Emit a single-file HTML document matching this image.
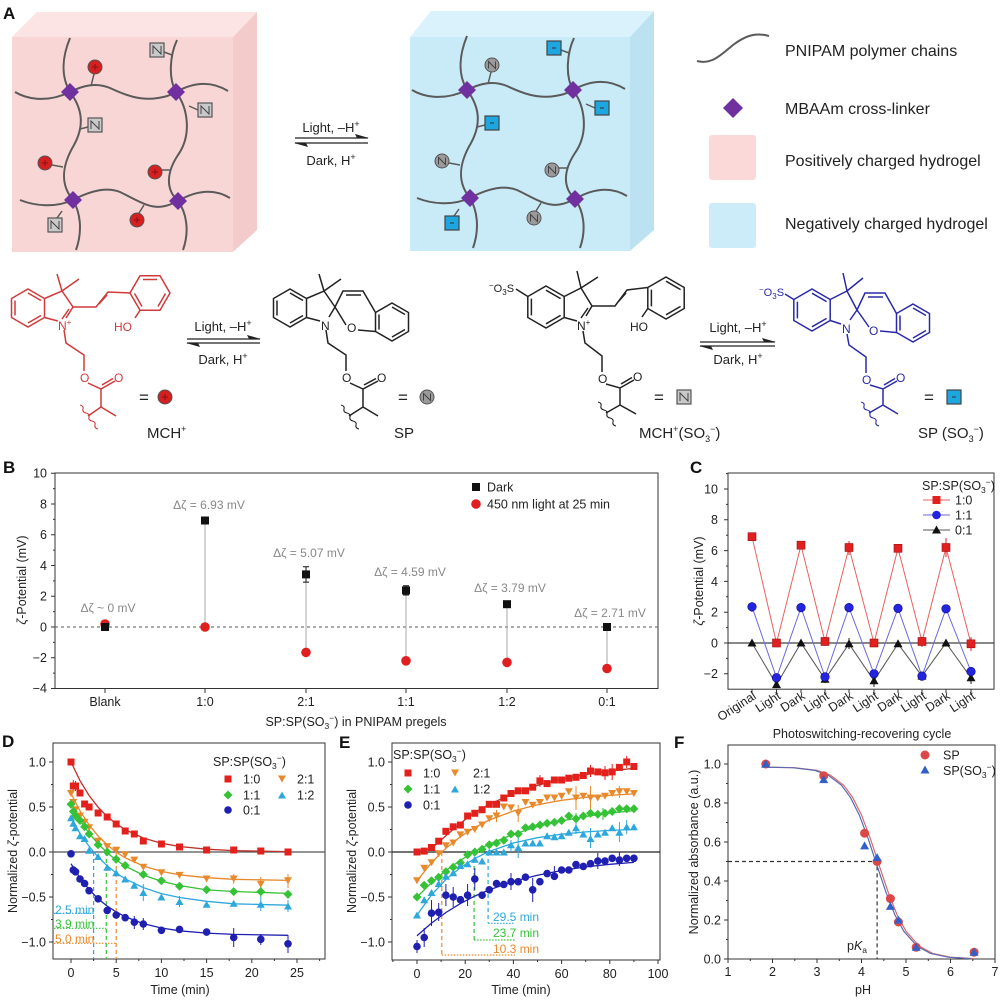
<!DOCTYPE html>
<html><head><meta charset="utf-8"><style>
html,body{margin:0;padding:0;background:#fff}
svg{display:block}
text{font-family:"Liberation Sans",Arial,sans-serif;fill:#222}
</style></head><body>
<svg width="1000" height="1000" viewBox="0 0 1000 1000" xmlns="http://www.w3.org/2000/svg">
<defs>
<g id="net" fill="none" stroke="#5a5a5a" stroke-width="2">
<path d="M15,92 C25,98 45,104 70,92 C82,86 95,82 110,88 C125,95 140,101 158,98 C166,97 171,95 176,92 C192,83 210,80 228,91"/>
<path d="M70,38 C63,55 60,75 70,92 C82,108 85,125 74,145 C64,162 58,182 73,200 C80,212 83,230 76,250"/>
<path d="M177,40 C170,55 168,78 176,92 C188,108 192,135 178,155 C168,170 164,188 178,201 C186,212 190,230 183,250"/>
<path d="M20,200 C35,206 55,208 73,200 C88,192 105,186 120,192 C135,199 150,210 165,206 C170,205 174,203 178,201 C190,194 210,186 230,198"/>
<path stroke-width="1.5" d="M94,74 L91,86 M52,165 L63,167 M162,170 L170,170 M139,213 L144,205 M164,52 L172,55 M198,110 L189,106 M88,127 L80,129 M57,218 L62,211"/>
<g fill="#7030a0" stroke="none">
<polygon points="70,83 79,92 70,101 61,92"/>
<polygon points="176,83 185,92 176,101 167,92"/>
<polygon points="73,191 82,200 73,209 64,200"/>
<polygon points="178,192 187,201 178,210 169,201"/>
</g>
</g>
<g id="rc"><circle r="7" fill="#d42020" stroke="#555" stroke-width="1"/><path d="M-3,0H3M0,-3V3" stroke="#8a1010" stroke-width="1"/></g>
<g id="ns"><rect x="-7" y="-7" width="14" height="14" fill="#c9c9c9" stroke="#555" stroke-width="1.2"/><path d="M-4,4V-4L4,4V-4" fill="none" stroke="#444" stroke-width="1"/></g>
<g id="nc"><circle r="7" fill="#9a9a9a" stroke="#555" stroke-width="1"/><path d="M-3.5,3.5V-3.5L3.5,3.5V-3.5" fill="none" stroke="#444" stroke-width="1"/></g>
<g id="ms"><rect x="-7" y="-7" width="14" height="14" fill="#1ea6e0" stroke="#444" stroke-width="1.2"/><path d="M-2,0H2" stroke="#333" stroke-width="1"/></g>

<marker id="mR" markerWidth="10" markerHeight="10" refX="5" refY="5" markerUnits="userSpaceOnUse" overflow="visible"><rect x="1.5" y="1.5" width="7" height="7" fill="#e3211c"/></marker>
<marker id="mO" markerWidth="10" markerHeight="10" refX="5" refY="5" markerUnits="userSpaceOnUse" overflow="visible"><polygon points="1,1.5 9,1.5 5,8.5" fill="#e8892b"/></marker>
<marker id="mG" markerWidth="10" markerHeight="10" refX="5" refY="5" markerUnits="userSpaceOnUse" overflow="visible"><polygon points="5,0.5 9.5,5 5,9.5 0.5,5" fill="#36c236"/></marker>
<marker id="mC" markerWidth="10" markerHeight="10" refX="5" refY="5" markerUnits="userSpaceOnUse" overflow="visible"><polygon points="5,1.5 9,8.5 1,8.5" fill="#2ea8dc"/></marker>
<marker id="mB" markerWidth="10" markerHeight="10" refX="5" refY="5" markerUnits="userSpaceOnUse" overflow="visible"><circle cx="5" cy="5" r="3.8" fill="#1f1fb0"/></marker>

<marker id="bK" markerWidth="10" markerHeight="10" refX="5" refY="5" markerUnits="userSpaceOnUse" overflow="visible"><rect x="1" y="1" width="8" height="8" fill="#111"/></marker>
<marker id="bR" markerWidth="10" markerHeight="10" refX="5" refY="5" markerUnits="userSpaceOnUse" overflow="visible"><circle cx="5" cy="5" r="4.8" fill="#e02020"/></marker>

<marker id="cR" markerWidth="10" markerHeight="10" refX="5" refY="5" markerUnits="userSpaceOnUse" overflow="visible"><rect x="1" y="1" width="8" height="8" fill="#e32020" stroke="#a01010" stroke-width="0.6"/></marker>
<marker id="cB" markerWidth="10" markerHeight="10" refX="5" refY="5" markerUnits="userSpaceOnUse" overflow="visible"><circle cx="5" cy="5" r="4.3" fill="#2323e0" stroke="#10108a" stroke-width="0.6"/></marker>
<marker id="cK" markerWidth="10" markerHeight="10" refX="5" refY="5" markerUnits="userSpaceOnUse" overflow="visible"><polygon points="5,0.5 9.5,8.5 0.5,8.5" fill="#111"/></marker>

<marker id="fR" markerWidth="10" markerHeight="10" refX="5" refY="5" markerUnits="userSpaceOnUse" overflow="visible"><circle cx="5" cy="5" r="4.5" fill="#dc4848"/></marker>
<marker id="fB" markerWidth="10" markerHeight="10" refX="5" refY="5" markerUnits="userSpaceOnUse" overflow="visible"><polygon points="5,0.5 9.5,8.5 0.5,8.5" fill="#3060c8"/></marker>
</defs>

<!-- ================= PANEL A ================= -->
<text x="3" y="19" font-size="17" font-weight="bold" style="fill:#111">A</text>
<polygon points="12,37 37,12 257,12 233,37" fill="#fce4e4"/>
<polygon points="233,37 257,12 257,230 233,252" fill="#f3cbcb"/>
<rect x="12" y="37" width="221" height="215" fill="#f9d6d6"/>
<use href="#net"/>
<use href="#rc" x="95" y="67"/><use href="#rc" x="45" y="163"/><use href="#rc" x="155" y="172"/><use href="#rc" x="137" y="220"/>
<use href="#ns" x="157" y="50"/><use href="#ns" x="205" y="110"/><use href="#ns" x="95" y="125"/><use href="#ns" x="55" y="225"/>

<text x="331" y="132" font-size="13" text-anchor="middle">Light, –H<tspan font-size="9" dy="-5">+</tspan></text>
<path d="M295,138H368M295,143H368" stroke="#222" stroke-width="1.3"/>
<polygon points="369,138 355,134 357,138" fill="#222"/>
<polygon points="294,143 308,147 306,143" fill="#222"/>
<text x="331" y="165" font-size="13" text-anchor="middle">Dark, H<tspan font-size="9" dy="-5">+</tspan></text>

<polygon points="410,37 431,11 654,11 630,37" fill="#d9f2fb"/>
<polygon points="630,37 654,11 654,230 630,251" fill="#bce2f1"/>
<rect x="410" y="37" width="220" height="214" fill="#c9ebf8"/>
<use href="#net" transform="translate(397,-2)"/>
<use href="#nc" x="492" y="65"/><use href="#nc" x="442" y="161"/><use href="#nc" x="552" y="170"/><use href="#nc" x="534" y="218"/>
<use href="#ms" x="554" y="48"/><use href="#ms" x="602" y="108"/><use href="#ms" x="492" y="123"/><use href="#ms" x="452" y="223"/>

<path d="M697,61 C712,65 722,54 733,45 C745,36 755,32 769,36" fill="none" stroke="#5a5a5a" stroke-width="2"/>
<text x="785" y="56" font-size="16">PNIPAM polymer chains</text>
<polygon points="733,98 743,108 733,118 723,108" fill="#7030a0"/>
<text x="785" y="114" font-size="16">MBAAm cross-linker</text>
<rect x="709" y="135" width="47" height="45" rx="3" fill="#fbd9d9"/>
<text x="785" y="166" font-size="16">Positively charged hydrogel</text>
<rect x="709" y="203" width="47" height="45" rx="3" fill="#cbecf8"/>
<text x="785" y="229" font-size="16">Negatively charged hydrogel</text>

<!-- ================= CHEMISTRY ROW ================= -->
<g fill="none" stroke="#d03a3a" stroke-width="1.5">
<path d="M28,289 L44.5,298.5 L44.5,317.5 L28,327 L11.5,317.5 L11.5,298.5 Z"/>
<path d="M28,293 L41,300.5 M41,315.5 L28,323 M15,315.5 L15,300.5"/>
<path d="M44.5,298.5 L62,291 L73,307 L66,318 M44.5,317.5 L58,321"/>
<path d="M69,309 L62,319"/>
<path d="M62,291 L57,274 M62,291 L79,279"/>
<path d="M73,307 L96,307 L108,292 L130,293 M99,304 L107,295"/>
<path d="M170,293 L160,275.7 L140,275.7 L130,293 L140,310.3 L160,310.3 Z"/>
<path d="M143,279.5 L157,279.5 M134.5,293.5 L142,306.5 M158,306.5 L165.5,293.5"/>
<path d="M140,310.3 L135,318"/>
<path d="M64,330 L66,343 L84,355 L84,371 M88,383 L101,389 L115,381 M102,385 L113,378.5 M101,389 L101,407 L88,416 M101,407 L116,416"/>
<path d="M80,405 q4,1 3,4 q-1,3 3,4 q4,1 3,4 q-1,3 3,4 q4,1 3,4 q-1,3 3,4" stroke-width="1.1"/>
</g>
<g font-size="12" style="fill:#d03a3a">
<text x="58" y="330" style="fill:#d03a3a">N<tspan font-size="8" dy="-5">+</tspan></text>
<text x="114" y="331" style="fill:#d03a3a">HO</text>
<text x="80" y="382" style="fill:#d03a3a">O</text>
<text x="114" y="382" style="fill:#d03a3a">O</text>
</g>
<text x="139" y="403" font-size="17">=</text>
<use href="#rc" x="165" y="397"/>
<text x="147" y="438" font-size="15">MCH<tspan font-size="9" dy="-6">+</tspan></text>

<text x="223" y="331" font-size="13" text-anchor="middle">Light, –H<tspan font-size="9" dy="-5">+</tspan></text>
<path d="M187,339H260M187,343H260" stroke="#222" stroke-width="1.3"/>
<polygon points="261,339 247,335 249,339" fill="#222"/>
<polygon points="186,343 200,347 198,343" fill="#222"/>
<text x="223" y="364" font-size="13" text-anchor="middle">Dark, H<tspan font-size="9" dy="-5">+</tspan></text>

<g fill="none" stroke="#222" stroke-width="1.5">
<path d="M290,289 L306.5,298.5 L306.5,317.5 L290,327 L273.5,317.5 L273.5,298.5 Z"/>
<path d="M290,293 L303,300.5 M303,315.5 L290,323 M277,315.5 L277,300.5"/>
<path d="M306.5,298.5 L324,291 L335,307 L329,317 M306.5,317.5 L320,321"/>
<path d="M324,291 L319,274 M324,291 L341,279"/>
<path d="M335,307 L343,291 L363,291 L375.5,312.5 M346,295 L361,295"/>
<path d="M392,303 L408.5,312.5 L408.5,331.5 L392,341 L375.5,331.5 L375.5,312.5 Z"/>
<path d="M392,307 L405,314.5 M405,329.5 L392,337 M379,329.5 L379,314.5"/>
<path d="M375.5,331.5 L358,330 M346,325 L335,307"/>
<path d="M326,330 L328,343 L346,355 L346,371 M350,383 L363,389 L378,381 M364,385 L376,378.5 M363,389 L363,407 L349,416 M363,407 L378,416"/>
<path d="M341,405 q4,1 3,4 q-1,3 3,4 q4,1 3,4 q-1,3 3,4 q4,1 3,4 q-1,3 3,4" stroke-width="1.1"/>
</g>
<g font-size="12">
<text x="321" y="330">N</text>
<text x="347" y="332">O</text>
<text x="342" y="382">O</text>
<text x="377" y="382">O</text>
</g>
<text x="398" y="403" font-size="17">=</text>
<use href="#nc" x="427" y="397"/>
<text x="394" y="438" font-size="15">SP</text>

<g fill="none" stroke="#222" stroke-width="1.5">
<path d="M546,286 L564.2,296.5 L564.2,317.5 L546,328 L527.8,317.5 L527.8,296.5 Z"/>
<path d="M546,290.2 L560.6,298.6 M560.6,315.4 L546,323.8 M531.4,315.4 L531.4,298.6"/>
<path d="M527.8,296.5 L516,289"/>
<path d="M564.2,296.5 L581,288 L592,306 L586,316 M564.2,317.5 L577,321"/>
<path d="M588,308 L581,318"/>
<path d="M581,288 L577,271 M581,288 L598,277"/>
<path d="M592,306 L615,306 L627,290 L647.8,287.5 M618,302 L626,293"/>
<path d="M666,277 L684.2,287.5 L684.2,308.5 L666,319 L647.8,308.5 L647.8,287.5 Z"/>
<path d="M666,281.2 L680.6,289.6 M680.6,306.4 L666,314.8 M651.4,306.4 L651.4,289.6"/>
<path d="M647.8,308.5 L642,317"/>
<path d="M583,331 L585,343 L602,356 L602,372 M606,384 L620,388 L634,380 M621,384 L632,377.5 M620,388 L620,405 L606,413 M620,405 L636,414"/>
<path d="M598,402 q4,1 3,4 q-1,3 3,4 q4,1 3,4 q-1,3 3,4 q4,1 3,4 q-1,3 3,4" stroke-width="1.1"/>
</g>
<g font-size="12">
<text x="577" y="330">N<tspan font-size="8" dy="-5">+</tspan></text>
<text x="630" y="331">HO</text>
<text x="598" y="383">O</text>
<text x="633" y="381">O</text>
<text x="489" y="292" font-size="11"><tspan font-size="8" dy="-4">−</tspan><tspan dy="4">O</tspan><tspan font-size="8" dy="3">3</tspan><tspan dy="-3">S</tspan></text>
</g>
<text x="654" y="403" font-size="17">=</text>
<use href="#ns" x="684" y="397"/>
<text x="639" y="438" font-size="15">MCH<tspan font-size="9" dy="-6">+</tspan><tspan dy="6">(SO</tspan><tspan font-size="9" dy="4">3</tspan><tspan font-size="9" dy="-10">−</tspan><tspan dy="6">)</tspan></text>

<text x="738" y="332" font-size="13" text-anchor="middle">Light, –H<tspan font-size="9" dy="-5">+</tspan></text>
<path d="M700,342H775M700,346H775" stroke="#222" stroke-width="1.3"/>
<polygon points="776,342 762,338 764,342" fill="#222"/>
<polygon points="699,346 713,350 711,346" fill="#222"/>
<text x="738" y="364" font-size="13" text-anchor="middle">Dark, H<tspan font-size="9" dy="-5">+</tspan></text>

<g fill="none" stroke="#2a2aa8" stroke-width="1.5">
<path d="M812,289 L830.2,299.5 L830.2,320.5 L812,331 L793.8,320.5 L793.8,299.5 Z"/>
<path d="M812,293.2 L826.6,301.6 M826.6,318.4 L812,326.8 M797.4,318.4 L797.4,301.6"/>
<path d="M793.8,299.5 L785,294"/>
<path d="M830.2,299.5 L847,291 L857,310 L850,320 M830.2,320.5 L841,324"/>
<path d="M847,291 L843,273 M847,291 L863,278"/>
<path d="M857,310 L865,293 L885,293 L896.5,313.5 M868,297 L883,297"/>
<path d="M913,304 L929.5,313.5 L929.5,332.5 L913,342 L896.5,332.5 L896.5,313.5 Z"/>
<path d="M913,308 L926,315.5 M926,330.5 L913,338 M900,330.5 L900,315.5"/>
<path d="M896.5,332.5 L880,331 M869,327 L857,310"/>
<path d="M847,334 L849,345 L866,357 L866,373 M870,385 L883,389 L897,381 M884,385 L895,378.5 M883,389 L883,405 L869,413 M883,405 L898,414"/>
<path d="M861,402 q4,1 3,4 q-1,3 3,4 q4,1 3,4 q-1,3 3,4 q4,1 3,4 q-1,3 3,4" stroke-width="1.1"/>
</g>
<g font-size="12">
<text x="842" y="333" style="fill:#2a2aa8">N</text>
<text x="869" y="335" style="fill:#2a2aa8">O</text>
<text x="862" y="384" style="fill:#2a2aa8">O</text>
<text x="896" y="382" style="fill:#2a2aa8">O</text>
<text x="759" y="296" font-size="11" style="fill:#2a2aa8"><tspan font-size="8" dy="-4">−</tspan><tspan dy="4">O</tspan><tspan font-size="8" dy="3">3</tspan><tspan dy="-3">S</tspan></text>
</g>
<text x="924" y="403" font-size="17">=</text>
<use href="#ms" x="954" y="397"/>
<text x="918" y="438" font-size="15">SP (SO<tspan font-size="9" dy="4">3</tspan><tspan font-size="9" dy="-10">−</tspan><tspan dy="6">)</tspan></text>

<!-- ================= PANEL B ================= -->
<text x="3" y="473" font-size="17" font-weight="bold" style="fill:#111">B</text>
<rect x="55" y="473" width="603" height="215.5" fill="none" stroke="#333" stroke-width="1"/>
<path d="M51,473.3H55M51,504H55M51,534.8H55M51,565.5H55M51,596.3H55M51,627H55M51,657.8H55M51,688.5H55" stroke="#333"/>
<path d="M53,488.6H55M53,519.4H55M53,550.1H55M53,580.9H55M53,611.6H55M53,642.4H55M53,673.1H55" stroke="#333"/>
<path d="M105,688.5V693M205,688.5V693M306,688.5V693M406,688.5V693M507,688.5V693M607,688.5V693" stroke="#333"/>
<g font-size="12.5" text-anchor="end">
<text x="47" y="477.5">10</text><text x="47" y="508.5">8</text><text x="47" y="539">6</text><text x="47" y="570">4</text><text x="47" y="600.5">2</text><text x="47" y="631.5">0</text><text x="47" y="662">−2</text><text x="47" y="692.5">−4</text>
</g>
<g font-size="12.5" text-anchor="middle">
<text x="105" y="706">Blank</text><text x="205" y="706">1:0</text><text x="306" y="706">2:1</text><text x="406" y="706">1:1</text><text x="507" y="706">1:2</text><text x="607" y="706">0:1</text>
<text x="356" y="726">SP:SP(SO<tspan font-size="8.5" dy="3">3</tspan><tspan font-size="8.5" dy="-8">−</tspan><tspan dy="5">) in PNIPAM pregels</tspan></text>
</g>
<text transform="translate(26,580) rotate(-90)" font-size="12.5" text-anchor="middle"><tspan font-style="italic">ζ</tspan>-Potential (mV)</text>
<path d="M55,627H658" stroke="#777" stroke-width="1.2" stroke-dasharray="3,3"/>
<path d="M205,520.5V627M306,574.4V652.4M406,590.4V660.8M507,604.2V662.4M607,627V668.5" stroke="#aaa" stroke-width="1"/>
<path d="M306,566.7V582.1M303,566.7H309M303,582.1H309M406,585.8V595M403,585.8H409M403,595H409" stroke="#111" stroke-width="1"/>
<path d="M306,648V657M607,664V673" stroke="#e02020" stroke-width="1"/>
<polyline points="105,624 205,627 306,652.4 406,660.8 507,662.4 607,668.5" fill="none" stroke="none" marker-start="url(#bR)" marker-mid="url(#bR)" marker-end="url(#bR)"/>
<polyline points="105,627 205,520.5 306,574.4 406,590.4 507,604.2 607,627" fill="none" stroke="none" marker-start="url(#bK)" marker-mid="url(#bK)" marker-end="url(#bK)"/>
<g font-size="12" text-anchor="middle" style="fill:#888">
<text x="108" y="612" style="fill:#888">Δζ ~ 0 mV</text>
<text x="209" y="509" style="fill:#888">Δζ = 6.93 mV</text>
<text x="309" y="557" style="fill:#888">Δζ = 5.07 mV</text>
<text x="410" y="576" style="fill:#888">Δζ = 4.59 mV</text>
<text x="510" y="592" style="fill:#888">Δζ = 3.79 mV</text>
<text x="610" y="617" style="fill:#888">Δζ = 2.71 mV</text>
</g>
<rect x="472" y="483" width="8" height="8" fill="#111"/>
<text x="487" y="491.5" font-size="12.5">Dark</text>
<circle cx="476" cy="504" r="4.8" fill="#e02020"/>
<text x="487" y="508.5" font-size="12.5">450 nm light at 25 min</text>

<!-- ================= PANEL C ================= -->
<text x="690" y="473" font-size="17" font-weight="bold" style="fill:#111">C</text>
<rect x="728" y="473" width="266" height="216.2" fill="none" stroke="#333" stroke-width="1"/>
<path d="M724,489H728M724,519.8H728M724,550.6H728M724,581.4H728M724,612.2H728M724,643H728M724,673.8H728" stroke="#333"/>
<path d="M726,473.6H728M726,504.4H728M726,535.2H728M726,566H728M726,596.8H728M726,627.6H728M726,658.4H728" stroke="#333"/>
<path d="M752,689V693M776.5,689V693M801,689V693M825,689V693M849,689V693M874,689V693M898,689V693M922,689V693M946,689V693M971,689V693" stroke="#333"/>
<g font-size="12.5" text-anchor="end">
<text x="718" y="493.5">10</text><text x="718" y="524">8</text><text x="718" y="555">6</text><text x="718" y="586">4</text><text x="718" y="616.5">2</text><text x="718" y="647.5">0</text><text x="718" y="678">−2</text>
</g>
<text transform="translate(703,581) rotate(-90)" font-size="12.5" text-anchor="middle"><tspan font-style="italic">ζ</tspan>-Potential (mV)</text>
<g font-size="12.5" text-anchor="end">
<text transform="translate(757,698) rotate(-33)">Original</text>
<text transform="translate(781.5,698) rotate(-33)">Light</text>
<text transform="translate(806,698) rotate(-33)">Dark</text>
<text transform="translate(830,698) rotate(-33)">Light</text>
<text transform="translate(854,698) rotate(-33)">Dark</text>
<text transform="translate(879,698) rotate(-33)">Light</text>
<text transform="translate(903,698) rotate(-33)">Dark</text>
<text transform="translate(927,698) rotate(-33)">Light</text>
<text transform="translate(951,698) rotate(-33)">Dark</text>
<text transform="translate(976,698) rotate(-33)">Light</text>
</g>
<text x="862" y="738" font-size="12.5" text-anchor="middle">Photoswitching-recovering cycle</text>
<path d="M728,643H994" stroke="#111" stroke-width="1"/>
<path d="M849,541V555M946,538V557M922,637V647M971,637V651M825,637V646" stroke="#e32020" stroke-width="1"/>
<path d="M752,602V612" stroke="#2323e0" stroke-width="1"/>
<path d="M874,675V687M825,676V683M849,638V649M971,672V684" stroke="#222" stroke-width="1"/>
<polyline points="752,536.7 776.5,643 801,545.2 825,641.5 849,547.5 874,643 898,548.3 922,641.5 946,547.5 971,643.8" fill="none" stroke="#e86060" stroke-width="1" marker-start="url(#cR)" marker-mid="url(#cR)" marker-end="url(#cR)"/>
<polyline points="752,643 776.5,684.6 801,643 825,679.2 849,643.8 874,680.7 898,643.8 922,676.1 946,643 971,677.7" fill="none" stroke="#555" stroke-width="1" marker-start="url(#cK)" marker-mid="url(#cK)" marker-end="url(#cK)"/>
<polyline points="752,606.8 776.5,677.7 801,607.6 825,676.9 849,607.6 874,673.8 898,608.4 922,676.1 946,608.8 971,671.5" fill="none" stroke="#6a6ad8" stroke-width="1" marker-start="url(#cB)" marker-mid="url(#cB)" marker-end="url(#cB)"/>
<text x="922" y="490" font-size="12.5">SP:SP(SO<tspan font-size="8.5" dy="3">3</tspan><tspan font-size="8.5" dy="-8">−</tspan><tspan dy="5">)</tspan></text>
<path d="M923,500H950" stroke="#e86060"/><rect x="932.5" y="496" width="8" height="8" fill="#e32020"/>
<text x="955" y="504.5" font-size="12.5">1:0</text>
<path d="M923,515H950" stroke="#6a6ad8"/><circle cx="936.5" cy="515" r="4.3" fill="#2323e0"/>
<text x="955" y="519.5" font-size="12.5">1:1</text>
<path d="M923,530H950" stroke="#555"/><polygon points="936.5,525.5 941,533.5 932,533.5" fill="#111"/>
<text x="955" y="534.5" font-size="12.5">0:1</text>

<!-- ================= PANEL D ================= -->
<text x="2" y="747" font-size="17" font-weight="bold" style="fill:#111">D</text>
<rect x="53" y="743" width="272" height="216" fill="none" stroke="#333" stroke-width="1"/>
<path d="M49,762H53M49,807H53M49,852H53M49,897H53M49,942H53" stroke="#333"/>
<path d="M51,784.5H53M51,829.5H53M51,874.5H53M51,919.5H53" stroke="#333"/>
<path d="M71,959V963M116.2,959V963M161.4,959V963M206.6,959V963M251.8,959V963M297,959V963" stroke="#333"/>
<path d="M93.6,959V961M138.8,959V961M184,959V961M229.2,959V961M274.4,959V961M319.6,959V961" stroke="#333"/>
<g font-size="12.5" text-anchor="end">
<text x="46" y="766.5">1.0</text><text x="46" y="811.5">0.5</text><text x="46" y="856.5">0.0</text><text x="46" y="901.5">−0.5</text><text x="46" y="946.5">−1.0</text>
</g>
<g font-size="12.5" text-anchor="middle">
<text x="71" y="977">0</text><text x="116.2" y="977">5</text><text x="161.4" y="977">10</text><text x="206.6" y="977">15</text><text x="251.8" y="977">20</text><text x="297" y="977">25</text>
<text x="180" y="994">Time (min)</text>
</g>
<text transform="translate(17,851) rotate(-90)" font-size="12.5" text-anchor="middle">Normalized <tspan font-style="italic">ζ</tspan>-potential</text>
<path d="M53,852H325" stroke="#555" stroke-width="1.2"/>
<path d="M93.6,852V959" stroke="#2ea8dc" stroke-width="1.2" stroke-dasharray="4,3"/>
<path d="M106.3,852V959" stroke="#36c236" stroke-width="1.2" stroke-dasharray="4,3"/>
<path d="M116.2,852V959" stroke="#e8892b" stroke-width="1.2" stroke-dasharray="4,3"/>
<path d="M54,913.3H93.6" stroke="#2ea8dc" stroke-width="1.2" stroke-dasharray="1.5,1.5"/>
<path d="M54,928.3H106.3" stroke="#36c236" stroke-width="1.2" stroke-dasharray="1.5,1.5"/>
<path d="M54,943.3H116.2" stroke="#e8892b" stroke-width="1.2" stroke-dasharray="1.5,1.5"/>
<text x="55" y="914" font-size="12" style="fill:#2ea8dc">2.5 min</text>
<text x="55" y="928" font-size="12" style="fill:#36c236">3.9 min</text>
<text x="55" y="943" font-size="12" style="fill:#e8892b">5.0 min</text>
<g fill="none" stroke-width="1.3">
<polyline stroke="#c0302a" points="71,762 80,780.7 89.1,795.5 98.1,807.2 107.2,816.5 116.2,823.8 125.2,829.7 143.3,838 161.4,843.2 179.5,846.5 206.6,849.2 233.7,850.6 288,851.6"/>
<polyline stroke="#e8892b" points="71,793.5 80,810.9 89.1,824.8 98.1,836 107.2,844.9 116.2,852.1 125.2,857.8 143.3,866 161.4,871.4 179.5,874.8 206.6,877.7 233.7,879.3 288,880.4"/>
<polyline stroke="#36c236" points="71,804.3 80,820.1 89.1,833.2 98.1,843.9 107.2,852.8 116.2,860.1 125.2,866.1 143.3,875.1 161.4,881.3 179.5,885.5 206.6,889.9 233.7,891.5 288,893.4"/>
<polyline stroke="#2ea8dc" points="71,817.8 80,833.5 89.1,846.4 98.1,857 107.2,865.8 116.2,873 125.2,878.8 143.3,887.6 161.4,893.6 179.5,897.5 206.6,901.3 233.7,903.8 288,905.2"/>
<polyline stroke="#1f1fb0" points="71,863.7 80,878 89.1,889.5 98.1,898.8 107.2,906.1 116.2,912 125.2,916.7 143.3,923.6 161.4,928 179.5,930.8 206.6,933.1 233.7,934.4 288,935.3"/>
</g>
<g stroke-width="1">
<path stroke="#e3211c" d="M73.3,780V792M75.5,781V791"/>
<path stroke="#e8892b" d="M260.8,877V892M288,874V888M233.7,874V884"/>
<path stroke="#36c236" d="M260.8,886V897M288,890V899"/>
<path stroke="#2ea8dc" d="M143.3,884V901M260.8,897V911M288,900V912M179.5,896V907"/>
<path stroke="#1f1fb0" d="M233.7,928V947M288,935V953M134.3,916V929M143.3,918V930M260.8,934V945"/>
</g>
<polyline points="71,762 73.3,786 75.5,786 80,793 84.6,804 89.1,807 98.1,813 107.2,817 116.2,824 125.2,831 134.3,834 143.3,841 161.4,844 179.5,847 206.6,850 233.7,850 260.8,851 288,852" fill="none" stroke="none" marker-start="url(#mR)" marker-mid="url(#mR)" marker-end="url(#mR)"/>
<polyline points="71,793.5 73.3,802.5 75.5,809.7 80,816 84.6,822.3 89.1,827.7 98.1,841.2 107.2,846.6 116.2,850.2 125.2,854.7 134.3,860.1 143.3,867.3 161.4,872.7 179.5,875.4 206.6,879 233.7,879 260.8,884.4 288,880.8" fill="none" stroke="none" marker-start="url(#mO)" marker-mid="url(#mO)" marker-end="url(#mO)"/>
<polyline points="71,804.3 73.3,811.5 75.5,816 80,820.5 84.6,826.8 89.1,834 98.1,844.8 107.2,852 116.2,859.2 125.2,865.5 143.3,874.5 161.4,880.8 179.5,886.2 206.6,889.8 233.7,891.6 260.8,891.6 288,894.3" fill="none" stroke="none" marker-start="url(#mG)" marker-mid="url(#mG)" marker-end="url(#mG)"/>
<polyline points="71,817.8 73.3,823.2 75.5,827.7 80,835.8 84.6,838.5 89.1,850.2 98.1,856.5 107.2,867.3 116.2,872.7 125.2,879 134.3,885.3 143.3,892.5 161.4,897 179.5,901.5 206.6,904.2 233.7,903.3 260.8,904.2 288,906" fill="none" stroke="none" marker-start="url(#mC)" marker-mid="url(#mC)" marker-end="url(#mC)"/>
<polyline points="71,853.8 73.3,870 75.5,871.8 80,879 84.6,883.5 89.1,890.7 98.1,898.8 107.2,910.5 116.2,915 125.2,917.7 134.3,922.2 143.3,924 161.4,930.3 179.5,929.4 206.6,932.1 233.7,937.5 260.8,939.3 288,943.8" fill="none" stroke="none" marker-start="url(#mB)" marker-mid="url(#mB)" marker-end="url(#mB)"/>
<text x="213" y="766" font-size="12.5">SP:SP(SO<tspan font-size="8.5" dy="3">3</tspan><tspan font-size="8.5" dy="-8">−</tspan><tspan dy="5">)</tspan></text>
<rect x="224.5" y="775.5" width="7" height="7" fill="#e3211c"/><text x="243" y="783.5" font-size="12.5">1:0</text>
<polygon points="278,775.5 286,775.5 282,782.5" fill="#e8892b"/><text x="297" y="783.5" font-size="12.5">2:1</text>
<polygon points="228,790.5 232.5,795 228,799.5 223.5,795" fill="#36c236"/><text x="243" y="799.5" font-size="12.5">1:1</text>
<polygon points="282,791.5 286,798.5 278,798.5" fill="#2ea8dc"/><text x="297" y="799.5" font-size="12.5">1:2</text>
<circle cx="228" cy="810" r="3.8" fill="#1f1fb0"/><text x="243" y="814.5" font-size="12.5">0:1</text>

<!-- ================= PANEL E ================= -->
<text x="339" y="748" font-size="17" font-weight="bold" style="fill:#111">E</text>
<rect x="392" y="743" width="268" height="217" fill="none" stroke="#333" stroke-width="1"/>
<path d="M388,762H392M388,807H392M388,852H392M388,897H392M388,942H392" stroke="#333"/>
<path d="M390,784.5H392M390,829.5H392M390,874.5H392M390,919.5H392" stroke="#333"/>
<path d="M417,960V964M465.2,960V964M513.4,960V964M561.6,960V964M609.8,960V964M658,960V964" stroke="#333"/>
<path d="M441.1,960V962M489.3,960V962M537.5,960V962M585.7,960V962M633.9,960V962M392.9,960V962" stroke="#333"/>
<g font-size="12.5" text-anchor="end">
<text x="385" y="766.5">1.0</text><text x="385" y="811.5">0.5</text><text x="385" y="856.5">0.0</text><text x="385" y="901.5">−0.5</text><text x="385" y="946.5">−1.0</text>
</g>
<g font-size="12.5" text-anchor="middle">
<text x="417" y="978">0</text><text x="465.2" y="978">20</text><text x="513.4" y="978">40</text><text x="561.6" y="978">60</text><text x="609.8" y="978">80</text><text x="658" y="978">100</text>
<text x="521" y="994">Time (min)</text>
</g>
<text transform="translate(356,851) rotate(-90)" font-size="12.5" text-anchor="middle">Normalized <tspan font-style="italic">ζ</tspan>-potential</text>
<path d="M392,852H660" stroke="#222" stroke-width="1.2"/>
<path d="M441.8,852V955" stroke="#e8892b" stroke-width="1.2" stroke-dasharray="4,3"/>
<path d="M474.1,852V940" stroke="#36c236" stroke-width="1.2" stroke-dasharray="4,3"/>
<path d="M488.1,852V923.3" stroke="#2ea8dc" stroke-width="1.2" stroke-dasharray="4,3"/>
<path d="M488.1,923.3H515" stroke="#2ea8dc" stroke-width="1.2" stroke-dasharray="1.5,1.5"/>
<path d="M474.1,940H515" stroke="#36c236" stroke-width="1.2" stroke-dasharray="1.5,1.5"/>
<path d="M441.8,955H515" stroke="#e8892b" stroke-width="1.2" stroke-dasharray="1.5,1.5"/>
<text x="493" y="921" font-size="12" style="fill:#2ea8dc">29.5 min</text>
<text x="493" y="937" font-size="12" style="fill:#36c236">23.7 min</text>
<text x="493" y="953" font-size="12" style="fill:#e8892b">10.3 min</text>
<g fill="none" stroke-width="1.3">
<polyline stroke="#c0302a" points="417,852 431.5,848.4 445.9,835.8 460.4,823.2 474.8,812.4 489.3,804.3 513.4,793.5 537.5,785.4 561.6,779.1 585.7,774.6 609.8,771 633.9,768.3"/>
<polyline stroke="#e8892b" points="417,880.8 431.5,862.7 445.9,848.2 460.4,836.7 474.8,827.4 489.3,820 513.4,811 537.5,804.7 561.6,800.3 585.7,797.4 609.8,795.3 633.9,793.9"/>
<polyline stroke="#36c236" points="417,897 431.5,882.7 445.9,870.5 460.4,860.3 474.8,851.5 489.3,844.1 513.4,834.2 537.5,826.6 561.6,820.9 585.7,816.5 609.8,813.1 633.9,810.6"/>
<polyline stroke="#2ea8dc" points="417,915 431.5,894.9 445.9,879.5 460.4,867.6 474.8,858.4 489.3,851.4 513.4,843 537.5,837.7 561.6,834.2 585.7,831.9 609.8,830.4 633.9,829.5"/>
<polyline stroke="#1f1fb0" points="417,935.7 431.5,923.1 445.9,912.5 460.4,903.6 474.8,896.1 489.3,889.8 513.4,881.4 537.5,875.2 561.6,870.5 585.7,866.9 609.8,864.3 633.9,862.4"/>
</g>
<g stroke-width="1">
<path stroke="#e3211c" d="M626.7,756V768M612.2,764V780M590.5,765V777M539.9,775V787M605,766V780"/>
<path stroke="#e8892b" d="M518.2,805V822M576,786V810M590.5,786V810M496.5,810V822M619.4,786V798"/>
<path stroke="#36c236" d="M576,813V824M603,808V820"/>
<path stroke="#2ea8dc" d="M511,840V852M518.2,838V858M590.5,828V848M619.4,822V842M626.7,820V834M576,821V834"/>
<path stroke="#1f1fb0" d="M417,940V953M424.2,928V947M431.5,900V926M438.7,903V921M445.9,884V906M453.2,887V907M467.6,884V906M474.8,868V890M532.7,878V902M511,873V890M554.4,866V880M597.8,853V869M619.4,852V866"/>
</g>
<polyline points="417,852 424.2,851.1 431.5,847.5 438.7,841.2 445.9,831.3 453.2,826.8 460.4,825 467.6,816 474.8,813.3 482.1,809.7 489.3,804.3 496.5,804.3 503.8,798 511,793.5 518.2,790.8 525.5,790.8 532.7,787.2 539.9,780.9 547.1,783.6 554.4,780 561.6,780 568.8,778.2 576,777.3 583.3,775.5 590.5,771 597.8,771.9 605,772.8 612.2,771.9 619.4,767.4 626.7,762 633.9,766.5" fill="none" stroke="none" marker-start="url(#mR)" marker-mid="url(#mR)" marker-end="url(#mR)"/>
<polyline points="417,880.8 424.2,868.2 431.5,862.8 438.7,853.8 445.9,845.7 453.2,843 460.4,834.9 467.6,832.2 474.8,829.5 482.1,825 489.3,818.7 496.5,816 503.8,807 511,807.9 518.2,813.3 525.5,802.5 532.7,805.2 539.9,802.5 547.1,798 554.4,798 561.6,796.2 568.8,791.7 576,798 583.3,796.2 590.5,798 597.8,798 605,796.2 612.2,793.5 619.4,791.7 626.7,791.7 633.9,793.5" fill="none" stroke="none" marker-start="url(#mO)" marker-mid="url(#mO)" marker-end="url(#mO)"/>
<polyline points="417,897 424.2,885.3 431.5,880.8 438.7,877.2 445.9,871.8 453.2,867.3 460.4,862.8 467.6,854.7 474.8,852 482.1,849.3 489.3,844.8 496.5,843 503.8,840.3 511,834 518.2,834 525.5,827.7 532.7,826.8 539.9,825 547.1,823.2 554.4,822.3 561.6,820.5 568.8,816 576,818.7 583.3,816 590.5,813.3 597.8,814.2 605,813.3 612.2,811.5 619.4,808.8 626.7,808.8 633.9,808.8" fill="none" stroke="none" marker-start="url(#mG)" marker-mid="url(#mG)" marker-end="url(#mG)"/>
<polyline points="417,915 424.2,899.7 431.5,892.5 438.7,883.5 445.9,876.3 453.2,872.7 460.4,865.5 467.6,863.7 474.8,859.2 482.1,861 489.3,852 496.5,852 503.8,852 511,844.8 518.2,847.5 525.5,843 532.7,843 539.9,843 547.1,835.8 554.4,836.7 561.6,835.8 568.8,832.2 576,827.7 583.3,834 590.5,838.5 597.8,834 605,832.2 612.2,827.7 619.4,832.2 626.7,826.8 633.9,826.8" fill="none" stroke="none" marker-start="url(#mC)" marker-mid="url(#mC)" marker-end="url(#mC)"/>
<polyline points="417,946.5 424.2,937.5 431.5,913.2 438.7,912.3 445.9,895.2 453.2,897 460.4,899.7 467.6,895.2 474.8,879 482.1,895.2 489.3,889.8 496.5,883.5 503.8,884.4 511,881.7 518.2,881.7 525.5,877.2 532.7,889.8 539.9,881.7 547.1,873.6 554.4,876.3 561.6,870 568.8,870 576,864.6 583.3,866.4 590.5,863.7 597.8,861 605,861 612.2,858.3 619.4,860.1 626.7,858.3 633.9,858.3" fill="none" stroke="none" marker-start="url(#mB)" marker-mid="url(#mB)" marker-end="url(#mB)"/>
<text x="393" y="759" font-size="12.5">SP:SP(SO<tspan font-size="8.5" dy="3">3</tspan><tspan font-size="8.5" dy="-8">−</tspan><tspan dy="5">)</tspan></text>
<rect x="404.5" y="769.5" width="7" height="7" fill="#e3211c"/><text x="423" y="777.5" font-size="12.5">1:0</text>
<polygon points="451,769.5 459,769.5 455,776.5" fill="#e8892b"/><text x="473" y="777.5" font-size="12.5">2:1</text>
<polygon points="408,784.5 412.5,789 408,793.5 403.5,789" fill="#36c236"/><text x="423" y="793.5" font-size="12.5">1:1</text>
<polygon points="455,785.5 459,792.5 451,792.5" fill="#2ea8dc"/><text x="473" y="793.5" font-size="12.5">1:2</text>
<circle cx="408" cy="805" r="3.8" fill="#1f1fb0"/><text x="423" y="809.5" font-size="12.5">0:1</text>

<!-- ================= PANEL F ================= -->
<text x="674" y="748" font-size="17" font-weight="bold" style="fill:#111">F</text>
<rect x="728" y="745" width="267" height="214" fill="none" stroke="#333" stroke-width="1"/>
<path d="M724,959H728M724,920H728M724,881H728M724,842H728M724,803H728M724,764H728" stroke="#333"/>
<path d="M726,939.5H728M726,900.5H728M726,861.5H728M726,822.5H728M726,783.5H728" stroke="#333"/>
<path d="M728,959V963M772.5,959V963M817,959V963M861.5,959V963M906,959V963M950.5,959V963M995,959V963" stroke="#333"/>
<path d="M750.3,959V961M794.8,959V961M839.3,959V961M883.8,959V961M928.3,959V961M972.8,959V961" stroke="#333"/>
<g font-size="12.5" text-anchor="end">
<text x="721" y="963.5">0.0</text><text x="721" y="924.5">0.2</text><text x="721" y="885.5">0.4</text><text x="721" y="846.5">0.6</text><text x="721" y="807.5">0.8</text><text x="721" y="768.5">1.0</text>
</g>
<g font-size="12.5" text-anchor="middle">
<text x="728" y="976">1</text><text x="772.5" y="976">2</text><text x="817" y="976">3</text><text x="861.5" y="976">4</text><text x="906" y="976">5</text><text x="950.5" y="976">6</text><text x="995" y="976">7</text>
<text x="863" y="994">pH</text>
</g>
<text transform="translate(698,852) rotate(-90)" font-size="12.5" text-anchor="middle">Normalized absorbance (a.u.)</text>
<path d="M728,861.5H877.1V959" fill="none" stroke="#333" stroke-width="1.2" stroke-dasharray="4,3"/>
<text x="847" y="950" font-size="12.5">p<tspan font-style="italic">K</tspan><tspan font-size="8.5" dy="3">a</tspan></text>
<polyline fill="none" stroke="#d86a6a" stroke-width="1.2" points="763.6,767.1 794.75,767.7 817,770.4 830.4,775.1 843.7,785.3 852.6,797.3 861.5,815.1 870.4,838.7 879.3,865.8 888.2,892.3 897.1,914.9 906,931.3 919.4,946.3 932.7,953.4 950.5,957.2 972.8,958.6"/>
<polyline fill="none" stroke="#5a6ab0" stroke-width="1.2" transform="translate(-2.2,0)" points="763.6,767.1 794.75,767.7 817,770.4 830.4,775.1 843.7,785.3 852.6,797.3 861.5,815.1 870.4,838.7 879.3,865.8 888.2,892.3 897.1,914.9 906,931.3 919.4,946.3 932.7,953.4 950.5,957.2 972.8,958.6"/>
<polyline points="765.8,764 823.7,775.7 864.6,833.2 877.1,861.5 890.4,898.6 898.4,922 916.2,947.3 974.1,952.2" fill="none" stroke="none" marker-start="url(#fR)" marker-mid="url(#fR)" marker-end="url(#fR)"/>
<polyline points="765.8,764 823.7,779.6 864.6,845.9 877.1,857.6 890.4,906.4 898.4,920 916.2,947.3 974.1,952.2" fill="none" stroke="none" marker-start="url(#fB)" marker-mid="url(#fB)" marker-end="url(#fB)"/>
<circle cx="925" cy="755" r="4.5" fill="#dc4848"/><text x="943" y="759.5" font-size="12.5">SP</text>
<polygon points="925,765.5 929.5,773.5 920.5,773.5" fill="#3060c8"/><text x="943" y="775" font-size="12.5">SP(SO<tspan font-size="8.5" dy="3">3</tspan><tspan font-size="8.5" dy="-8">−</tspan><tspan dy="5">)</tspan></text>
</svg>
</body></html>
